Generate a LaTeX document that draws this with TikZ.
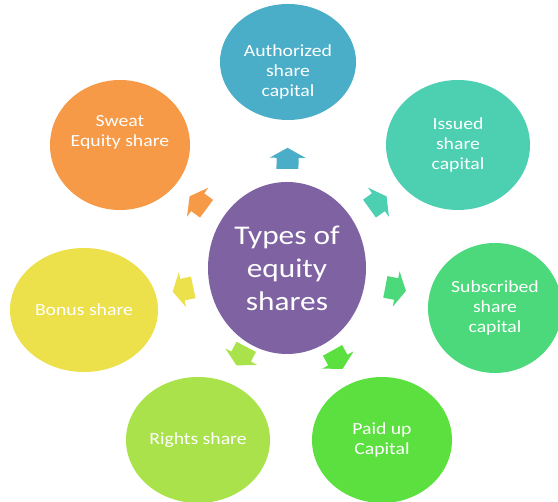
\documentclass[tikz,border=0pt]{standalone}
\usepackage{fontspec}
\setmainfont[FakeStretch=1.16]{Carlito}
\usetikzlibrary{shapes.geometric}
\definecolor{typepurple}{HTML}{7E62A1}
\definecolor{authblue}{HTML}{4BAEC8}
\definecolor{issuedteal}{HTML}{4DCFB1}
\definecolor{subsgreen}{HTML}{4CD97B}
\definecolor{paidgreen}{HTML}{5CE040}
\definecolor{rightslime}{HTML}{A9E24B}
\definecolor{bonusyellow}{HTML}{ECE04B}
\definecolor{sweatorange}{HTML}{F79A47}

\begin{document}
\begin{tikzpicture}[x=1pt, y=1pt,
sharenode/.style={ellipse, fill=#1, text=white, inner sep=0pt, align=center, font=\fontsize{17}{20}\selectfont},
sharelabel/.style={text=white, inner sep=0pt, align=center, font=\fontsize{17}{20}\selectfont},
centernode/.style={ellipse, fill=typepurple, text=white, inner sep=0pt, align=center, minimum width=158pt, minimum height=172pt, font=\fontsize{27}{33}\selectfont},
blockarrow/.pic={\fill[pic actions] (-10,-11) -- (-10,11) -- (1,11) -- (1,18) -- (11,0) -- (1,-18) -- (1,-11) -- cycle;}]
\useasboundingbox (0,0) rectangle (558,502);
\node[centernode] (types) at (287,234) {Types of\\equity\\shares};
\node[sharenode=authblue, minimum width=136pt, minimum height=116pt,
  label={[sharelabel, yshift=-10pt]center:{Authorized\\share\\capital}}] (auth) at (288,440) {};
\node[sharenode=issuedteal, minimum width=144pt, minimum height=130pt] (issued) at (458,357) {Issued\\share\\capital};
\node[sharenode=subsgreen, minimum width=134pt, minimum height=130pt] (subs) at (495,194) {Subscribed\\share\\capital};
\node[sharenode=paidgreen, minimum width=140pt, minimum height=126pt] (paid) at (382,62) {Paid up\\Capital};
\node[sharenode=rightslime, minimum width=144pt, minimum height=126pt] (rights) at (198,62) {Rights share};
\node[sharenode=bonusyellow, minimum width=148pt, minimum height=124pt] (bonus) at (84,192) {Bonus share};
\node[sharenode=sweatorange, minimum width=140pt, minimum height=130pt,
  label={[sharelabel, yshift=13pt]center:{Sweat\\Equity share}}] (sweat) at (120,357) {};

% block arrows from the centre outwards
\path (types.center) -- (auth.center) pic[pos=0.53, sloped, allow upside down, fill=authblue] {blockarrow};
\path (types.center) -- (issued.center) pic[pos=0.53, sloped, allow upside down, fill=issuedteal] {blockarrow};
\path (types.center) -- (subs.center) pic[pos=0.52, sloped, allow upside down, fill=subsgreen] {blockarrow};
\path (types.center) -- (paid.center) pic[pos=0.53, sloped, allow upside down, fill=paidgreen] {blockarrow};
\path (types.center) -- (rights.center) pic[pos=0.51, sloped, allow upside down, fill=rightslime] {blockarrow};
\path (types.center) -- (bonus.center) pic[pos=0.51, sloped, allow upside down, fill=bonusyellow] {blockarrow};
\path (types.center) -- (sweat.center) pic[pos=0.53, sloped, allow upside down, fill=sweatorange] {blockarrow};
\end{tikzpicture}
\end{document}
